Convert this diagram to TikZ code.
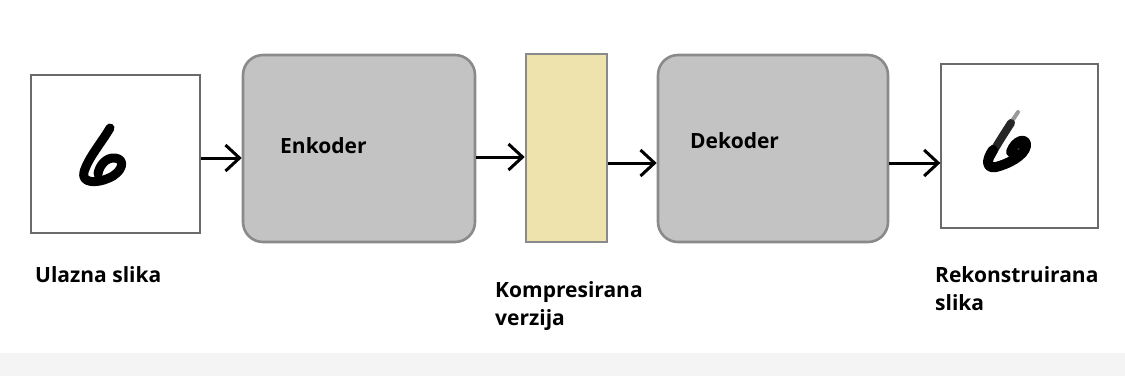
\documentclass[tikz,border=0pt]{standalone}
\usepackage{fontspec}
\setmainfont{Open Sans}
\usetikzlibrary{arrows.meta}
\definecolor{boxgray}{HTML}{C3C3C3}
\definecolor{edgegray}{HTML}{8A8A8A}
\definecolor{beige}{HTML}{EEE2AD}
\definecolor{framegray}{HTML}{6A6A6A}
\definecolor{band}{HTML}{F4F4F4}
\tikzset{
  imgbox/.style={draw=framegray, fill=white, line width=1.3pt, inner sep=0pt},
  procbox/.style={draw=edgegray, fill=boxgray, line width=2.6pt, rounded corners=20pt, inner sep=0pt},
  codebox/.style={draw=edgegray, fill=beige, line width=2.6pt, inner sep=0pt},
  arr/.style={line width=3pt, -{Straight Barb[length=14pt,width=26pt]}},
  lbl/.style={anchor=base west, inner sep=0pt, font=\fontsize{21}{25}\selectfont\bfseries},
  digit/.style={line cap=round, line join=round}
}
\begin{document}
\begin{tikzpicture}[x=1pt,y=-1pt]
\useasboundingbox (0,0) rectangle (1125,376);
\fill[band] (0,353) rectangle (1125,376);
% boxes
\node[imgbox, minimum width=169pt, minimum height=158pt] (in) at (115.5,154) {};
\node[procbox, minimum width=232pt, minimum height=187pt] (enc) at (359,148.5) {};
\node[codebox, minimum width=81pt, minimum height=188pt] (code) at (566.5,148) {};
\node[procbox, minimum width=230pt, minimum height=187pt] (dec) at (773,148.5) {};
\node[imgbox, minimum width=157pt, minimum height=164pt] (out) at (1019.5,146) {};
% digits
\draw[digit, line width=9pt] (110,128) .. controls (102,142) and (88,158) .. (84,172)
  .. controls (81,183) and (96,184) .. (109,178) .. controls (123,172) and (126,159) .. (115,158)
  .. controls (106,157) and (99,166) .. (98,174);
\draw[digit, line width=4pt, black!40] (1018,112) -- (1010,124);
\draw[digit, line width=8pt, black!85] (1011,123) .. controls (1004,134) and (996,146) .. (991,156);
\draw[digit, line width=10pt] (993,150) .. controls (986,160) and (986,169) .. (996,167)
  .. controls (1008,164) and (1024,156) .. (1026,146) .. controls (1027,137) and (1015,140) .. (1011,152);
% labels
\node[lbl] (tenc) at (280,153) {Enkoder};
\node[lbl] (tdec) at (690,148) {Dekoder};
\node[lbl] (tin) at (35,282) {Ulazna slika};
\node[lbl] (tcode1) at (495,297) {Kompresirana};
\node[lbl] (tcode2) at (495,325) {verzija};
\node[lbl] (tout1) at (935,282) {Rekonstruirana};
\node[lbl] (tout2) at (935,310) {slika};
% connectors
\draw[arr] (in.east |- 0,158) -- (enc.west |- 0,158);
\draw[arr] (enc.east |- 0,157) -- (code.west |- 0,157);
\draw[arr] (code.east |- 0,163) -- (dec.west |- 0,163);
\draw[arr] (dec.east |- 0,163) -- (out.west |- 0,163);
\end{tikzpicture}
\end{document}
